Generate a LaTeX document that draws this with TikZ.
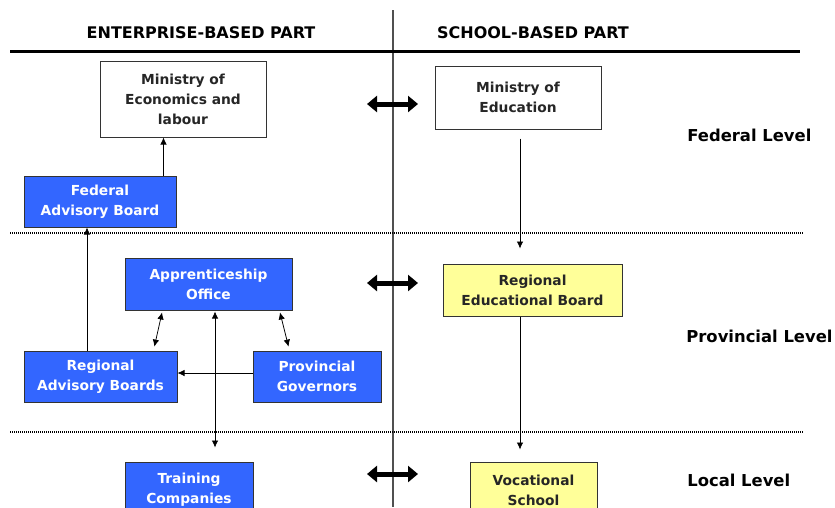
\documentclass[tikz,border=0pt]{standalone}
\usepackage{fontspec}
\setmainfont{DejaVu Sans}
\usetikzlibrary{arrows.meta}

\definecolor{boxblue}{RGB}{51,102,255}
\definecolor{boxyellow}{RGB}{255,255,153}
\definecolor{midline}{RGB}{80,80,80}

\tikzset{every picture/.style={line width=0.75pt}}
\tikzset{
  orgbox/.style={draw=black!80, line width=1pt, align=center, inner sep=0pt,
    font=\bfseries\fontsize{13.8}{20}\selectfont},
  whitebox/.style={orgbox, fill=white, text=black!85},
  bluebox/.style={orgbox, fill=boxblue, text=white},
  yellowbox/.style={orgbox, fill=boxyellow, text=black!85},
  headtext/.style={font=\bfseries\fontsize{16}{20}\selectfont, inner sep=0pt},
  leveltext/.style={font=\bfseries\fontsize{16.4}{20}\selectfont, inner sep=0pt, anchor=west},
  levelline/.style={line width=2pt, dash pattern={on 1pt off 1pt}},
  thinarrow/.style={-{Latex[length=7pt,width=6.5pt]}},
  bothways/.style={{Latex[length=7pt,width=6.5pt]}-{Latex[length=7pt,width=6.5pt]}},
  linkarrow/.style={line width=5pt, {Triangle[length=10pt,width=16pt]}-{Triangle[length=10pt,width=16pt]}}
}

\begin{document}
\begin{tikzpicture}[x=1pt,y=1pt,yscale=-1,xscale=1]
\useasboundingbox (0,0) rectangle (835,507);

%Straight Lines: column divider and header rule
\draw [color=midline, line width=1.5pt] (393,10) -- (393,507) ;
\draw [line width=3pt] (10,51) -- (800,51) ;
%Dotted level separators
\draw [levelline] (10,233) -- (803,233) ;
\draw [levelline] (10,432) -- (803,432) ;

% Headers
\node [headtext] (enthead) at (201,33) {ENTERPRISE-BASED PART};
\node [headtext] (schhead) at (533,33) {SCHOOL-BASED PART};

% Level labels
\node [leveltext] (fedlevel) at (687,135) {Federal Level};
\node [leveltext] (provlevel) at (686,336) {Provincial Level};
\node [leveltext] (loclevel) at (687,480) {Local Level};

% Federal level
\node [whitebox, minimum width=166pt, minimum height=76pt] (ministryecon) at (183,99) {Ministry of\\Economics and\\labour};
\node [whitebox, minimum width=166pt, minimum height=63pt] (ministryedu) at (518,97.5) {Ministry of\\Education};
\node [bluebox, minimum width=152pt, minimum height=51pt] (fedboard) at (100,201.5) {Federal\\Advisory Board};

% Provincial level
\node [bluebox, minimum width=167pt, minimum height=52pt] (apprentice) at (208.5,284) {Apprenticeship\\Office};
\node [yellowbox, minimum width=179pt, minimum height=52pt] (regedu) at (532.5,290) {Regional\\Educational Board};
\node [bluebox, minimum width=153pt, minimum height=51pt] (regboards) at (100.5,376.5) {Regional\\Advisory Boards};
\node [bluebox, minimum width=128pt, minimum height=51pt] (governors) at (317,376.5) {Provincial\\Governors};

% Local level
\node [bluebox, minimum width=128pt, minimum height=56pt] (companies) at (189,490) {Training\\Companies};
\node [yellowbox, minimum width=127pt, minimum height=56pt] (vocschool) at (533.5,490) {Vocational\\School};

% Connectors, enterprise side
\draw [thinarrow] ([xshift=-13pt]fedboard.north east) -- ([xshift=-13pt]fedboard.north east |- ministryecon.south) ;
\draw [thinarrow] ([xshift=-13.5pt]regboards.north) -- ([xshift=-13.5pt]regboards.north |- fedboard.south) ;
\draw [bothways, shorten <=2pt, shorten >=4pt] ([xshift=38pt]apprentice.south west) -- ([xshift=-24pt]regboards.north east) ;
\draw [bothways, shorten <=2pt, shorten >=4pt] ([xshift=-13pt]apprentice.south east) -- ([xshift=37pt]governors.north west) ;
\draw [thinarrow] ([yshift=-3.5pt]governors.west) -- ([yshift=-3.5pt]governors.west -| regboards.east) ;
\draw [bothways, shorten <=1pt, shorten >=14pt] ([xshift=6.5pt]apprentice.south) -- ([xshift=6.5pt]apprentice.south |- companies.north) ;

% Connectors, school side
\draw [thinarrow, shorten <=9pt, shorten >=15pt] ([xshift=2pt]ministryedu.south) -- ([xshift=2pt]ministryedu.south |- regedu.north) ;
\draw [thinarrow, shorten >=12pt] ([xshift=-12.5pt]regedu.south) -- ([xshift=-12.5pt]regedu.south |- vocschool.north) ;

% Links between the two parts
\coordinate (fedleft) at (367,104);
\coordinate (fedright) at (418,104);
\coordinate (provleft) at (367,283);
\coordinate (provright) at (418,283);
\coordinate (locleft) at (367,474);
\coordinate (locright) at (418,474);
\draw [linkarrow] (fedleft) -- (fedright) ;
\draw [linkarrow] (provleft) -- (provright) ;
\draw [linkarrow] (locleft) -- (locright) ;

\end{tikzpicture}
\end{document}
